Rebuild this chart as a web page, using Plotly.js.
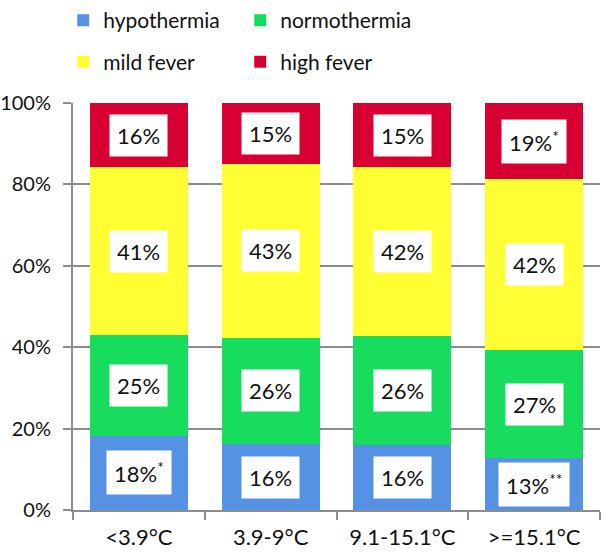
<!DOCTYPE html>
<html>
<head>
<meta charset="utf-8">
<script src="https://cdn.plot.ly/plotly-3.0.1.min.js"></script>
<style>html,body{margin:0;padding:0;background:#fff;}#chart{width:602px;height:555px;}</style>
</head>
<body>
<div id="chart"></div>
<script>
var categories = ["<3.9°C", "3.9-9°C", "9.1-15.1°C", ">=15.1°C"];
var seriesNames = ["hypothermia", "normothermia", "mild fever", "high fever"];
var hypothermia = [18.3, 16.2, 16.0, 12.7];
var normothermia = [24.6, 26.1, 26.7, 26.5];
var mildFever = [41.3, 42.7, 41.5, 42.1];
var highFever = [15.8, 15.0, 15.8, 18.7];
var hypothermiaLabels = ["18%<sup>*</sup>", "16%", "16%", "13%<sup>**</sup>"];
var normothermiaLabels = ["25%", "26%", "26%", "27%"];
var mildFeverLabels = ["41%", "43%", "42%", "42%"];
var highFeverLabels = ["16%", "15%", "15%", "19%<sup>*</sup>"];
var colors = ["#5592E3", "#18DC5E", "#FFFF33", "#D80032"];

var series = [hypothermia, normothermia, mildFever, highFever];
var labels = [hypothermiaLabels, normothermiaLabels, mildFeverLabels, highFeverLabels];
var legendRow = ["legend", "legend", "legend2", "legend2"];
var FONT = "Lato, 'Liberation Sans', sans-serif";

var traces = series.map(function (vals, s) {
  return {
    type: "bar",
    name: seriesNames[s],
    legend: legendRow[s],
    x: categories,
    y: vals.map(function (v) { return v / 100; }),
    marker: { color: colors[s], line: { width: 0 } },
    hoverinfo: "skip"
  };
});

var annotations = [];
categories.forEach(function (c, i) {
  var base = 0;
  series.forEach(function (vals, s) {
    var mid = base + vals[i] / 2;
    base += vals[i];
    annotations.push({
      x: i, y: mid / 100, xref: "x", yref: "y",
      text: labels[s][i], showarrow: false,
      bgcolor: "#ffffff", borderpad: 7,
      font: { family: FONT, size: 22, color: "#111" }
    });
  });
});

function legendDef(yTop) {
  return {
    orientation: "h", xref: "container", yref: "container",
    x: 0.105, xanchor: "left", y: yTop, yanchor: "top",
    font: { family: FONT, size: 21, color: "#111" },
    entrywidth: 132, traceorder: "normal", itemclick: false,
    bgcolor: "rgba(0,0,0,0)"
  };
}

var layout = {
  width: 602, height: 555,
  margin: { l: 73, r: 2, t: 103, b: 45, autoexpand: false },
  barmode: "stack",
  bargap: 0.256,
  paper_bgcolor: "#fff", plot_bgcolor: "#fff",
  font: { family: FONT, size: 20, color: "#111" },
  showlegend: true,
  legend: legendDef(1.0),
  legend2: legendDef(0.925),
  xaxis: {
    type: "category", tickson: "boundaries", ticks: "outside", ticklen: 8,
    tickcolor: "#8c8c8c", tickwidth: 2, ticklabelstandoff: 7,
    showline: true, linecolor: "#8c8c8c", linewidth: 2,
    showgrid: false, tickfont: { family: FONT, size: 22, color: "#111" }
  },
  yaxis: {
    range: [0, 1], tickvals: [0, 0.2, 0.4, 0.6, 0.8, 1], tickformat: ".0%",
    ticks: "outside", ticklen: 8, tickcolor: "#8c8c8c", tickwidth: 2,
    ticklabelstandoff: 8,
    showline: true, linecolor: "#8c8c8c", linewidth: 2,
    showgrid: true, gridcolor: "#8c8c8c", gridwidth: 2, zeroline: false,
    tickfont: { family: FONT, size: 20, color: "#111" }
  },
  annotations: annotations
};

Plotly.newPlot("chart", traces, layout, { displayModeBar: false, staticPlot: true });
</script>
</body>
</html>
